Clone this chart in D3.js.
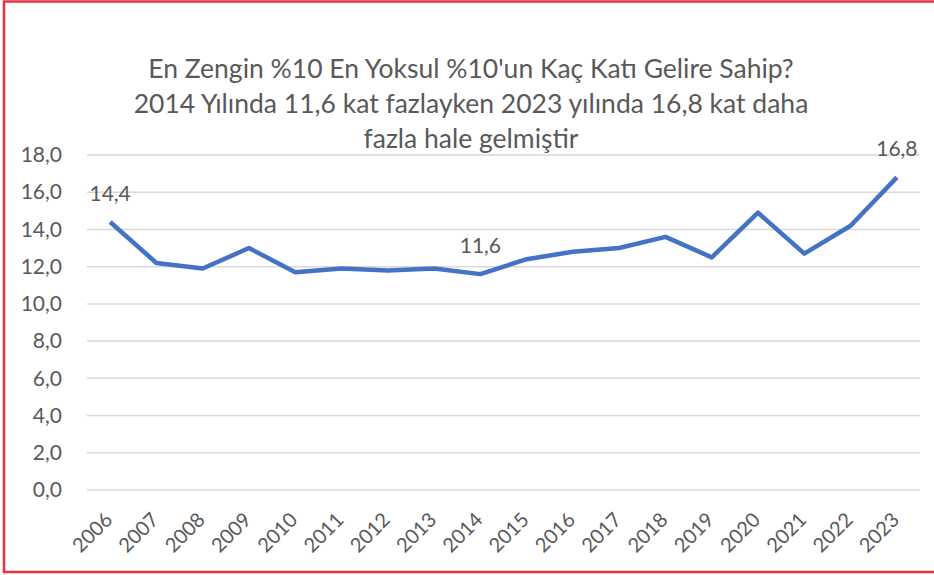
<!DOCTYPE html>
<html>
<head>
<meta charset="utf-8">
<script src="https://cdn.jsdelivr.net/npm/d3@7"></script>
<style>
  body { margin: 0; background: #fff; }
  text { font-family: "Lato", "Open Sans", sans-serif; fill: #595959; }
</style>
</head>
<body>
<script>
// chart data
var years = ["2006","2007","2008","2009","2010","2011","2012","2013","2014","2015","2016","2017","2018","2019","2020","2021","2022","2023"];
var ratio = [14.4, 12.2, 11.9, 13.0, 11.7, 11.9, 11.8, 11.9, 11.6, 12.4, 12.8, 13.0, 13.6, 12.5, 14.9, 12.7, 14.2, 16.8];
var yTicks = [0, 2, 4, 6, 8, 10, 12, 14, 16, 18];
var labelledYears = ["2006", "2014", "2023"];
var titleLines = [
  "En Zengin %10 En Yoksul %10'un Kaç Katı Gelire Sahip?",
  "2014 Yılında 11,6 kat fazlayken 2023 yılında 16,8 kat daha",
  "fazla hale gelmiştir"
];

var W = 934, H = 575;
var margin = {top: 155, right: 14, bottom: 85, left: 87};
var width = W - margin.left - margin.right,
    height = H - margin.top - margin.bottom;

var tr = d3.formatLocale({decimal: ",", thousands: ".", grouping: [3], currency: ["", ""]});
var fmt = tr.format(".1f");

var svg = d3.select("body").append("svg")
    .attr("width", W)
    .attr("height", H);

// red frame (right side runs off the picture)
svg.append("rect")
    .attr("x", 4).attr("y", 1.5)
    .attr("width", 960).attr("height", 570.5)
    .attr("fill", "none")
    .attr("stroke", "#e8323f")
    .attr("stroke-width", 2.5);

// title
svg.append("g").selectAll("text")
    .data(titleLines)
    .enter().append("text")
    .attr("x", 471)
    .attr("y", function(d, i) { return 78 + i * 35; })
    .attr("text-anchor", "middle")
    .style("font-size", "26.5px")
    .text(function(d) { return d; });

var g = svg.append("g")
    .attr("transform", "translate(" + margin.left + "," + margin.top + ")");

var x = d3.scalePoint().domain(years).range([0, width]).padding(0.5);
var y = d3.scaleLinear().domain([0, 18]).range([height, 0]);

// gridlines
g.append("g").selectAll("line")
    .data(yTicks)
    .enter().append("line")
    .attr("x1", 0).attr("x2", width)
    .attr("y1", function(d) { return y(d); })
    .attr("y2", function(d) { return y(d); })
    .attr("stroke", "#d9d9d9")
    .attr("stroke-width", 1.5);

// y axis labels
var yAxis = g.append("g")
    .call(d3.axisLeft(y).tickValues(yTicks).tickFormat(fmt).tickSize(0).tickPadding(25));
yAxis.select(".domain").remove();
yAxis.selectAll("text")
    .style("font-size", "21px")
    .style("font-family", "Lato, sans-serif")
    .attr("fill", "#595959");

// x axis labels, rotated
var xAxis = g.append("g")
    .attr("transform", "translate(0," + height + ")")
    .call(d3.axisBottom(x).tickSize(0).tickPadding(0));
xAxis.select(".domain").remove();
xAxis.selectAll("text")
    .style("font-size", "20px")
    .style("font-family", "Lato, sans-serif")
    .attr("fill", "#595959")
    .attr("text-anchor", "end")
    .attr("dy", null)
    .attr("y", 0)
    .attr("transform", "translate(3,31) rotate(-45)");

// the line
var line = d3.line()
    .x(function(d, i) { return x(years[i]); })
    .y(function(d) { return y(d); });

g.append("path")
    .datum(ratio)
    .attr("fill", "none")
    .attr("stroke", "#4472c4")
    .attr("stroke-width", 4.5)
    .attr("stroke-linejoin", "round")
    .attr("d", line);

// data labels
g.append("g").selectAll("text")
    .data(years.filter(function(d) { return labelledYears.indexOf(d) >= 0; }))
    .enter().append("text")
    .attr("x", function(d) { return x(d); })
    .attr("y", function(d) { return y(ratio[years.indexOf(d)]) - 21; })
    .attr("text-anchor", "middle")
    .style("font-size", "21px")
    .attr("fill", "#404040")
    .text(function(d) { return fmt(ratio[years.indexOf(d)]); });
</script>
</body>
</html>
